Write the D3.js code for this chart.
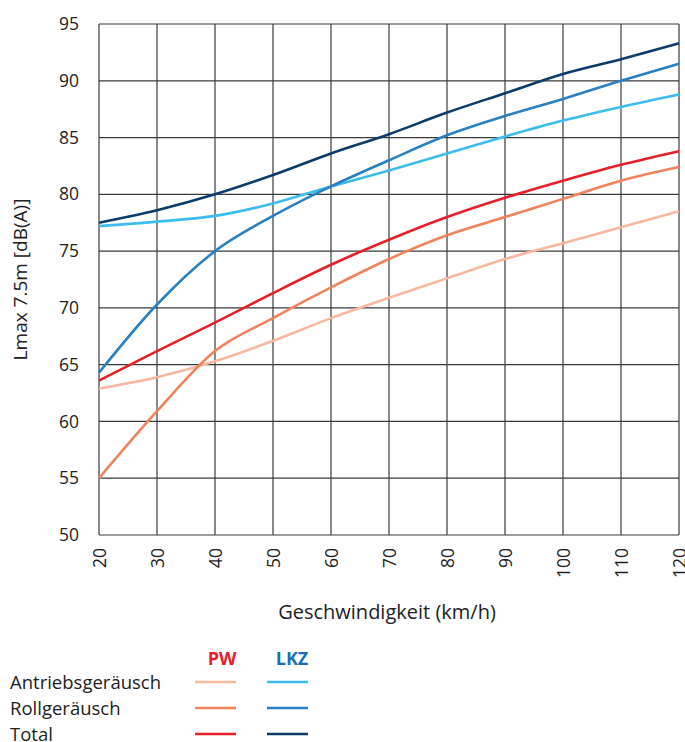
<!DOCTYPE html>
<meta charset="utf-8">
<script src="https://d3js.org/d3.v7.min.js"></script>
<style>
  body { margin: 0; background: #fff; }
  text { font-family: "Open Sans", "Noto Sans", sans-serif; fill: #222; }
</style>
<div id="chart"></div>
<script>
  // speeds (km/h)
  const speeds = [20, 30, 40, 50, 60, 70, 80, 90, 100, 110, 120];

  // PW values, dB(A)
  const pwAntrieb = [62.9, 63.9, 65.3, 67.1, 69.1, 70.9, 72.6, 74.3, 75.7, 77.1, 78.5];
  const pwRoll    = [55.0, 60.9, 66.2, 69.1, 71.8, 74.3, 76.4, 78.0, 79.6, 81.2, 82.4];
  const pwTotal   = [63.6, 66.2, 68.7, 71.3, 73.8, 76.0, 78.0, 79.7, 81.2, 82.6, 83.8];

  // LKZ values, dB(A)
  const lkzAntrieb = [77.2, 77.6, 78.1, 79.2, 80.7, 82.1, 83.6, 85.1, 86.5, 87.7, 88.8];
  const lkzRoll    = [64.3, 70.3, 75.0, 78.1, 80.7, 83.0, 85.2, 86.9, 88.4, 90.0, 91.5];
  const lkzTotal   = [77.5, 78.6, 80.0, 81.7, 83.6, 85.3, 87.2, 88.9, 90.6, 91.9, 93.3];

  const xTicks = [20, 30, 40, 50, 60, 70, 80, 90, 100, 110, 120];
  const yTicks = [50, 55, 60, 65, 70, 75, 80, 85, 90, 95];

  const rowLabels = ["Antriebsgeräusch", "Rollgeräusch", "Total"];

  const series = [
    {name: "PW Antrieb", values: pwAntrieb, color: "#f8b8a0"},
    {name: "PW Roll", values: pwRoll, color: "#f2825e"},
    {name: "PW Total", values: pwTotal, color: "#e81f2a"},
    {name: "LKZ Antrieb", values: lkzAntrieb, color: "#3dbdee"},
    {name: "LKZ Roll", values: lkzRoll, color: "#2a80c2"},
    {name: "LKZ Total", values: lkzTotal, color: "#0b3c6a"}
  ];

  const width = 685, height = 742;
  const margin = {top: 24, left: 99, right: 6, bottom: 207};
  const innerW = width - margin.left - margin.right;
  const innerH = height - margin.top - margin.bottom;

  const svg = d3.select("#chart")
    .append("svg")
      .attr("width", width)
      .attr("height", height);

  const g = svg.append("g")
    .attr("transform", "translate(" + margin.left + "," + margin.top + ")");

  const x = d3.scaleLinear().domain([20, 120]).range([0, innerW]);
  const y = d3.scaleLinear().domain([50, 95]).range([innerH, 0]);

  // grid
  g.append("g")
    .selectAll("line")
    .data(xTicks)
    .join("line")
      .attr("x1", d => x(d)).attr("x2", d => x(d))
      .attr("y1", 0).attr("y2", innerH)
      .attr("stroke", "#3a3a3a")
      .attr("stroke-width", 1.2);

  g.append("g")
    .selectAll("line")
    .data(yTicks)
    .join("line")
      .attr("x1", 0).attr("x2", innerW)
      .attr("y1", d => y(d)).attr("y2", d => y(d))
      .attr("stroke", "#3a3a3a")
      .attr("stroke-width", 1.2);

  // y axis labels
  const yAxis = g.append("g")
    .call(d3.axisLeft(y).tickValues(yTicks).tickSize(0).tickPadding(20));
  yAxis.select(".domain").remove();
  yAxis.selectAll("text")
    .style("font-size", "17.5px")
    .attr("fill", "#222");

  // x axis labels (rotated)
  const xAxis = g.append("g")
    .attr("transform", "translate(0," + innerH + ")")
    .call(d3.axisBottom(x).tickValues(xTicks).tickSize(0));
  xAxis.select(".domain").remove();
  xAxis.selectAll("text")
    .style("font-size", "17.5px")
    .attr("fill", "#222")
    .attr("text-anchor", "end")
    .attr("transform", "rotate(-90)")
    .attr("x", -13)
    .attr("y", 0)
    .attr("dy", "0.35em");

  // axis titles
  svg.append("text")
    .attr("transform", "translate(27," + (margin.top + innerH / 2) + ") rotate(-90)")
    .attr("text-anchor", "middle")
    .style("font-size", "19px")
    .text("Lmax 7.5m [dB(A)]");

  svg.append("text")
    .attr("x", margin.left + innerW / 2 - 2)
    .attr("y", 619)
    .attr("text-anchor", "middle")
    .style("font-size", "20px")
    .text("Geschwindigkeit (km/h)");

  // lines
  const line = d3.line()
    .x((d, i) => x(speeds[i]))
    .y(d => y(d))
    .curve(d3.curveMonotoneX);

  g.append("g")
    .selectAll("path")
    .data(series)
    .join("path")
      .attr("d", d => line(d.values))
      .attr("fill", "none")
      .attr("stroke", d => d.color)
      .attr("stroke-width", 2.6);

  // legend
  const legend = svg.append("g");
  const colX = [215.5, 287.5];
  legend.append("text")
    .attr("x", 222).attr("y", 665)
    .attr("text-anchor", "middle")
    .style("font-size", "18px").style("font-weight", "bold")
    .style("fill", "#e81f2a")
    .text("PW");
  legend.append("text")
    .attr("x", 292).attr("y", 665)
    .attr("text-anchor", "middle")
    .style("font-size", "18px").style("font-weight", "bold")
    .style("fill", "#1a70b8")
    .text("LKZ");

  rowLabels.forEach((lab, i) => {
    const ry = 682 + i * 26;
    legend.append("text")
      .attr("x", 10).attr("y", ry + 7)
      .style("font-size", "18.5px")
      .text(lab);
    [0, 1].forEach(c => {
      legend.append("line")
        .attr("x1", colX[c] - 20.5).attr("x2", colX[c] + 20.5)
        .attr("y1", ry).attr("y2", ry)
        .attr("stroke", series[c * 3 + i].color)
        .attr("stroke-width", 2.6);
    });
  });
</script>
